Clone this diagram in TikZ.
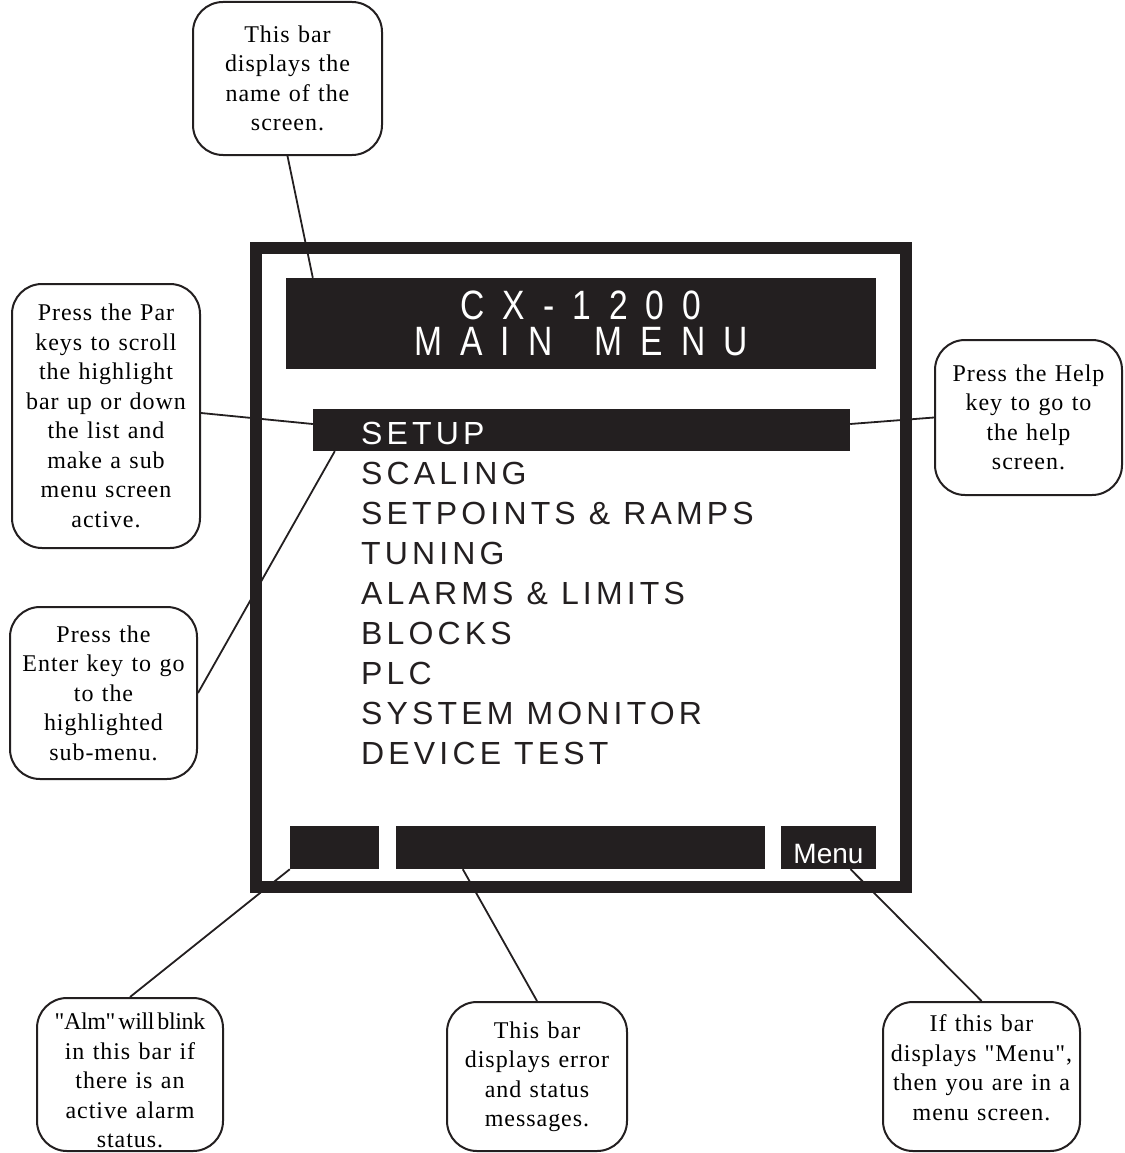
\documentclass[tikz,border=0pt]{standalone}
\usepackage{fontspec}
\newfontfamily\notefont{Liberation Serif}[LetterSpace=4,WordSpace=1.2]
\newfontfamily\tightnotefont{Liberation Serif}[LetterSpace=-1.5,WordSpace=0.5]
\newfontfamily\menufont{Liberation Sans}[LetterSpace=13]
\newfontfamily\lcdfont{Liberation Sans}[FakeStretch=0.82,LetterSpace=44,WordSpace=1.55]
\newfontfamily\tagfont{Liberation Sans}
\definecolor{lcd}{RGB}{35,31,32}

\begin{document}
\begin{tikzpicture}[x=1pt, y=-1pt,
  note/.style={align=center, inner sep=0, font=\notefont\fontsize{24}{29.5}\selectfont},
  callout/.style={note, draw=lcd, line width=2, rounded corners=30},
  bar/.style={fill=lcd, inner sep=0},
  menuitem/.style={anchor=base west, inner sep=0, text=lcd, font=\menufont\fontsize{32}{32}\selectfont},
  wire/.style={draw=lcd, line width=1.8}]
  \useasboundingbox (0,0) rectangle (1124,1153);

  % display frame and title bar
  \node[draw=lcd, line width=12, minimum width=650, minimum height=639] (screen) at (581,567.5) {};
  \node[bar, minimum width=590, minimum height=91, text=white, align=center,
    font=\lcdfont\fontsize{41}{36}\selectfont] (title_bar) at (581,323.5) {CX-1200\\MAIN MENU};

  % menu list, first entry highlighted
  \node[bar, minimum width=537, minimum height=42] (setup_bar) at (581.5,430) {};
  \node[menuitem, text=white] (item1) at (361,444) {SETUP};
  \foreach \entry [count=\i from 2] in {SCALING, {SETPOINTS \& RAMPS}, TUNING, {ALARMS \& LIMITS},
      BLOCKS, PLC, {SYSTEM MONITOR}, {DEVICE TEST}}
    \node[menuitem] (item\i) at (361, 403.9+40.1*\i) {\entry};

  % status line boxes
  \node[bar, minimum width=89, minimum height=43] (alm_box) at (334.5,847.5) {};
  \node[bar, minimum width=369, minimum height=43] (msg_box) at (580.5,847.5) {};
  \node[bar, minimum width=95, minimum height=43, text=white, text height=32, text depth=0,
    font=\tagfont\fontsize{28}{28}\selectfont] (menu_box) at (828.5,847.5) {Menu};

  % callouts
  \node[callout, minimum width=189, minimum height=153] (call_name) at (287.5,78.5)
    {This bar\\displays the\\name of the\\screen.};
  \node[callout, minimum width=188, minimum height=264] (call_par) at (106,416)
    {Press the Par\\keys to scroll\\the highlight\\bar up or down\\the list and\\make a sub\\menu screen\\active.};
  \node[callout, minimum width=187, minimum height=172] (call_enter) at (103.5,693)
    {Press the\\Enter key to go\\to the\\highlighted\\sub-menu.};
  \node[callout, minimum width=187, minimum height=155] (call_help) at (1028.5,417.5)
    {Press the Help\\key to go to\\the help\\screen.};
  \node[callout, minimum width=186, minimum height=153] (call_alm) at (130,1074.5) {};
  \node[note] (call_alm_text) at ([yshift=-6]call_alm.center)
    {{\tightnotefont "Alm" will blink}\\in this bar if\\there is an\\active alarm\\status.};
  \node[callout, minimum width=180, minimum height=149] (call_msg) at (537,1076.5)
    {This bar\\displays error\\and status\\messages.};
  \node[callout, minimum width=197, minimum height=149] (call_menu) at (981.5,1076.5) {};
  \node[note] (call_menu_text) at ([yshift=9]call_menu.center)
    {If this bar\\displays "Menu",\\then you are in a\\menu screen.};

  % leader lines
  \draw[wire] (call_name.south) -- ([xshift=27]title_bar.north west);
  \draw[wire] ([yshift=3]call_par.east) -- ([yshift=6]setup_bar.west);
  \draw[wire] (call_enter.east) -- ([xshift=22]setup_bar.south west);
  \draw[wire] ([yshift=6]setup_bar.east) -- (call_help.west);
  \draw[wire] (alm_box.south west) -- (call_alm.north);
  \draw[wire] ([xshift=67]msg_box.south west) -- (call_msg.north);
  \draw[wire] ([xshift=22]menu_box.south) -- (call_menu.north);
\end{tikzpicture}
\end{document}
